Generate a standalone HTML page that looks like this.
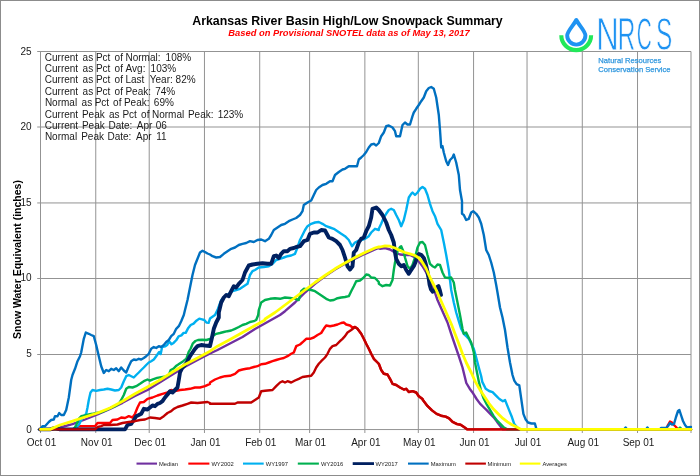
<!DOCTYPE html>
<html><head><meta charset="utf-8"><title>Arkansas River Basin High/Low Snowpack Summary</title>
<style>
html,body{margin:0;padding:0;background:#fff;}
body{width:700px;height:476px;overflow:hidden;}
svg{display:block;font-family:"Liberation Sans",sans-serif;}
</style></head><body>
<svg width="700" height="476" viewBox="0 0 700 476">
<rect x="0" y="0" width="700" height="476" fill="#fff"/>
<rect x="0.5" y="0.5" width="699" height="475" fill="none" stroke="#8c8c8c" stroke-width="1"/>
<g stroke="#939393" stroke-width="1"><line x1="37.20" y1="429.55" x2="691.0" y2="429.55"/><line x1="37.20" y1="354.5" x2="691.0" y2="354.5"/><line x1="37.20" y1="278.5" x2="691.0" y2="278.5"/><line x1="37.20" y1="202.95" x2="691.0" y2="202.95"/><line x1="37.20" y1="127.0" x2="691.0" y2="127.0"/><line x1="37.20" y1="51.5" x2="691.0" y2="51.5"/><line x1="40.50" y1="51.5" x2="40.50" y2="433.0"/><line x1="95.75" y1="51.5" x2="95.75" y2="433.0"/><line x1="149.21" y1="51.5" x2="149.21" y2="433.0"/><line x1="204.46" y1="51.5" x2="204.46" y2="433.0"/><line x1="259.71" y1="51.5" x2="259.71" y2="433.0"/><line x1="309.61" y1="51.5" x2="309.61" y2="433.0"/><line x1="364.86" y1="51.5" x2="364.86" y2="433.0"/><line x1="418.32" y1="51.5" x2="418.32" y2="433.0"/><line x1="473.57" y1="51.5" x2="473.57" y2="433.0"/><line x1="527.04" y1="51.5" x2="527.04" y2="433.0"/><line x1="582.29" y1="51.5" x2="582.29" y2="433.0"/><line x1="637.53" y1="51.5" x2="637.53" y2="433.0"/><line x1="691.0" y1="51.5" x2="691.0" y2="433.0"/></g>
<g font-size="10px" fill="#1a1a1a"><text y="60.70" id="st0" xml:space="preserve"><tspan x="44.80">Current </tspan><tspan x="82.60">as </tspan><tspan x="95.90">Pct </tspan><tspan x="114.60">of </tspan><tspan x="125.45">Normal: </tspan><tspan x="165.60">108%</tspan></text><text y="72.05" id="st1" xml:space="preserve"><tspan x="44.80">Current </tspan><tspan x="82.60">as </tspan><tspan x="95.90">Pct </tspan><tspan x="114.60">of </tspan><tspan x="125.60">Avg: </tspan><tspan x="150.60">103%</tspan></text><text y="83.30" id="st2" xml:space="preserve"><tspan x="44.80">Current </tspan><tspan x="82.60">as </tspan><tspan x="95.90">Pct </tspan><tspan x="114.60">of </tspan><tspan x="125.45">Last </tspan><tspan x="149.75">Year: </tspan><tspan x="175.60">82%</tspan></text><text y="94.60" id="st3" xml:space="preserve"><tspan x="44.80">Current </tspan><tspan x="82.60">as </tspan><tspan x="95.90">Pct </tspan><tspan x="114.60">of </tspan><tspan x="125.45">Peak: </tspan><tspan x="155.25">74%</tspan></text><text y="106.20" id="st4" xml:space="preserve"><tspan x="44.90">Normal </tspan><tspan x="81.60">as </tspan><tspan x="94.70">Pct </tspan><tspan x="113.10">of </tspan><tspan x="123.95">Peak: </tspan><tspan x="153.85">69%</tspan></text><text y="117.50" id="st5" xml:space="preserve"><tspan x="44.80">Current </tspan><tspan x="81.95">Peak </tspan><tspan x="108.90">as </tspan><tspan x="122.45">Pct </tspan><tspan x="141.10">of </tspan><tspan x="151.95">Normal </tspan><tspan x="187.95">Peak: </tspan><tspan x="217.65">123%</tspan></text><text y="128.80" id="st6" xml:space="preserve"><tspan x="44.80">Current </tspan><tspan x="81.95">Peak </tspan><tspan x="108.50">Date: </tspan><tspan x="136.75">Apr </tspan><tspan x="155.80">06</tspan></text><text y="140.10" id="st7" xml:space="preserve"><tspan x="44.90">Normal </tspan><tspan x="81.20">Peak </tspan><tspan x="107.45">Date: </tspan><tspan x="136.00">Apr </tspan><tspan x="156.15">11</tspan></text></g>
<g fill="none" stroke-linejoin="round" stroke-linecap="round"><polyline stroke="#7030A0" stroke-width="2.4" points="40.0,429.4 50.0,429.4 60.0,427.5 72.5,424.2 85.0,419.5 97.5,414.5 110.0,409.0 122.5,402.8 135.0,396.0 147.5,390.0 160.0,382.2 172.5,374.5 185.0,366.8 197.5,360.0 210.0,353.5 217.5,350.0 230.0,343.5 242.5,337.0 255.0,329.0 267.5,322.0 280.0,315.0 285.0,311.2 295.0,302.5 305.0,292.5 315.0,283.8 325.0,276.2 335.0,269.5 345.0,263.8 355.0,258.8 365.0,253.8 375.0,249.5 378.8,248.0 380.0,248.8 385.0,248.0 390.0,249.5 395.0,252.5 400.0,254.5 405.0,255.0 410.0,255.0 415.0,257.5 418.8,261.2 422.5,266.2 426.2,272.5 430.0,281.2 433.8,289.0 437.5,300.0 442.5,311.2 447.5,322.5 451.2,333.8 455.0,345.0 458.8,356.2 462.5,367.5 466.3,383.0 469.7,388.7 473.1,393.3 476.6,399.0 480.0,403.6 483.4,407.0 486.9,410.4 490.3,413.9 493.7,417.3 497.1,421.9 500.6,426.4 502.9,429.4 691.0,429.4"/><polyline stroke="#FF0000" stroke-width="2.4" points="40.0,429.4 72.5,429.4 76.2,427.5 78.8,426.2 95.0,426.2 97.5,423.0 110.0,423.0 112.5,420.0 117.5,419.5 121.2,417.5 125.0,418.0 128.8,416.2 132.5,417.5 135.0,413.8 137.5,407.5 140.0,402.5 143.8,402.0 147.5,398.8 152.5,397.5 157.5,395.5 162.5,393.8 167.5,392.5 171.2,390.0 175.0,391.2 180.0,390.0 185.0,389.5 190.0,388.8 195.0,387.5 200.0,387.5 205.0,386.2 210.0,383.8 210.0,382.5 215.0,379.5 220.0,377.5 225.0,376.2 230.0,375.8 235.0,373.8 238.8,370.5 242.5,369.5 246.2,368.8 250.0,368.2 253.8,367.0 257.5,366.2 261.2,364.2 265.0,363.8 268.8,362.5 272.5,361.2 276.2,360.0 280.0,358.8 283.8,358.0 287.5,356.2 291.2,353.8 293.8,352.5 296.2,346.2 300.0,344.5 303.8,341.2 306.2,338.8 310.0,338.8 313.8,337.5 317.5,335.0 321.2,333.0 323.8,328.8 326.2,325.5 330.0,326.2 333.8,325.5 337.5,324.5 341.2,323.0 343.8,322.5 346.2,324.5 350.0,325.5 352.5,327.5 355.0,327.0 357.5,328.8 361.2,333.8 363.8,338.8 366.2,343.8 368.8,348.8 371.2,353.8 373.8,358.8 377.5,362.5 378.8,363.8 381.2,370.0 383.8,373.8 387.5,374.5 390.0,378.8 392.5,383.8 396.2,385.0 400.0,387.5 403.8,389.5 406.2,388.8 408.8,392.0 412.5,391.2 416.2,392.5 418.8,396.2 422.5,399.0 422.9,400.1 427.4,405.9 432.0,410.4 436.6,413.9 441.1,415.7 445.7,416.6 449.1,418.4 452.6,421.9 457.1,424.1 460.6,424.8 464.0,427.1 467.4,429.4 666.0,429.4 668.0,425.0 670.0,421.6 672.0,422.6 674.0,425.0 676.0,427.0 678.0,429.4 691.0,429.4"/><polyline stroke="#00B0F0" stroke-width="2.4" points="40.0,429.4 72.5,429.4 76.2,427.5 78.8,425.0 81.2,420.0 83.8,416.2 86.2,413.8 87.5,407.5 88.8,400.0 90.5,392.5 92.5,390.0 96.2,390.8 100.0,390.0 103.8,389.5 107.5,388.8 111.2,389.5 115.0,390.5 118.8,390.0 121.2,387.5 123.8,381.2 126.2,376.2 128.8,375.0 131.2,376.2 133.8,377.5 136.2,375.0 138.8,372.5 141.2,370.0 143.8,367.5 146.2,365.0 148.8,362.5 151.2,361.2 153.8,359.5 156.2,356.2 158.8,352.5 159.2,352.0 160.7,354.0 162.1,347.1 165.0,346.4 167.1,345.0 169.3,341.4 171.4,344.3 173.6,342.9 176.4,340.0 178.6,336.4 181.4,335.4 183.6,332.9 185.7,332.9 187.9,328.6 190.7,325.0 193.6,323.6 196.4,320.7 199.3,318.6 202.1,319.3 204.3,320.0 206.4,322.6 208.6,322.9 210.0,318.6 212.1,317.1 215.0,315.0 217.9,309.0 221.2,300.0 225.0,296.2 228.8,293.8 232.5,291.2 236.2,290.0 240.0,288.8 243.8,286.2 247.5,283.8 250.0,275.0 252.5,271.2 255.0,270.0 258.8,267.5 263.8,267.0 268.8,266.2 272.5,263.8 276.2,260.0 280.0,258.8 283.8,257.5 287.5,256.2 291.2,255.5 295.0,253.8 297.5,247.5 300.0,240.0 302.5,235.0 305.0,230.0 307.5,226.2 311.2,223.8 315.0,222.5 318.8,222.0 322.5,223.8 326.2,226.2 330.0,227.5 333.8,228.8 337.5,231.2 341.2,233.8 345.0,236.2 348.8,240.0 352.0,246.2 355.0,242.5 357.5,241.2 361.2,240.0 365.0,238.8 368.8,236.2 371.2,232.5 375.0,228.8 378.8,230.0 378.8,228.8 381.2,223.8 383.8,217.5 386.2,213.8 388.8,210.0 391.2,208.8 393.8,210.0 396.2,215.0 398.8,220.0 401.2,226.2 403.8,220.0 406.2,210.0 408.8,197.5 411.2,193.8 412.5,192.5 415.0,195.0 417.5,192.5 420.0,188.8 422.5,187.0 425.0,188.8 427.5,195.0 430.0,203.8 432.5,211.2 435.0,216.2 437.5,223.8 441.2,230.0 443.8,242.5 446.2,255.0 448.8,270.0 450.0,280.0 451.2,290.0 453.8,302.5 456.2,312.5 458.8,321.2 461.2,328.8 463.8,333.8 466.2,336.2 468.8,338.8 471.2,343.8 473.8,348.8 476.2,357.5 478.8,367.5 481.2,376.2 482.3,381.9 485.7,388.7 489.1,391.0 492.6,392.1 496.0,395.6 499.4,399.0 502.9,401.3 505.1,400.1 507.4,405.9 509.7,411.6 512.0,417.3 514.3,424.1 517.7,428.0 520.0,429.4 691.0,429.4"/><polyline stroke="#00B050" stroke-width="2.4" points="40.0,429.4 73.8,429.4 76.2,425.0 78.8,418.8 81.2,416.2 85.0,415.5 88.8,414.5 92.5,413.8 96.2,413.0 100.0,412.5 103.8,411.2 107.5,409.5 111.2,407.5 115.0,406.2 118.8,403.8 121.2,400.0 123.8,395.0 126.2,388.8 128.8,387.0 132.5,387.5 136.2,386.2 140.0,383.8 143.8,381.2 147.5,379.5 147.5,379.5 150.0,380.7 152.9,379.3 157.1,377.9 161.4,377.1 165.7,376.4 168.6,375.7 170.7,370.0 173.6,368.6 176.4,365.7 178.6,364.3 182.9,361.4 186.4,358.6 188.6,352.1 190.7,348.5 192.9,343.3 195.4,341.0 198.0,340.0 202.1,339.8 206.4,340.0 210.0,339.0 212.5,336.2 216.2,333.8 220.0,333.0 223.8,332.0 227.5,331.2 231.2,330.5 235.0,328.8 238.8,327.0 242.5,325.0 246.2,323.8 250.0,322.0 253.8,321.2 256.2,320.0 258.2,315.0 258.8,310.0 261.2,302.5 265.0,300.0 270.0,298.8 275.0,298.2 280.0,298.8 285.0,297.5 290.0,298.0 295.0,298.8 298.8,300.0 301.2,291.2 303.8,288.8 307.5,289.5 311.2,290.0 315.0,291.2 318.8,293.8 322.5,296.2 326.2,298.8 330.0,300.5 333.8,300.0 337.5,298.2 341.2,297.5 345.0,297.0 348.8,296.2 351.2,291.2 353.8,286.2 356.2,281.2 360.0,280.5 363.8,277.5 366.2,274.5 368.8,275.0 371.2,277.5 375.0,278.0 378.8,282.0 378.8,283.8 382.5,286.2 386.2,285.0 390.0,285.5 392.5,280.0 393.8,270.0 395.0,262.5 397.5,251.2 400.0,247.0 401.2,246.2 403.8,252.5 405.0,257.5 407.5,266.2 410.0,268.8 412.5,265.0 415.0,257.5 417.5,247.5 420.0,242.5 422.5,242.0 425.0,245.0 427.5,255.0 430.0,263.8 432.5,266.2 435.0,267.5 437.5,264.5 440.0,265.0 442.5,272.5 445.0,277.5 448.8,278.0 451.2,277.5 453.8,282.5 455.0,290.0 457.5,302.5 460.0,315.0 462.5,328.8 463.8,333.8 466.2,332.5 468.0,336.2 471.2,342.5 473.8,352.5 475.0,362.5 477.5,375.0 478.9,381.9 481.1,391.0 483.4,397.9 486.9,404.7 490.3,410.4 493.7,416.1 497.1,420.7 500.6,424.1 504.0,427.6 507.4,429.4 678.0,429.4 680.0,427.6 682.0,429.4 691.0,429.4"/><polyline stroke="#002060" stroke-width="3.9" points="40.0,429.4 50.0,429.4 55.0,428.0 60.0,429.4 125.0,429.4 127.5,425.0 131.2,423.8 133.8,420.0 136.2,416.2 138.8,415.0 141.2,413.8 143.8,408.8 147.5,409.5 150.0,407.5 152.5,405.5 155.0,406.2 157.5,403.8 160.0,403.0 162.5,401.2 165.0,397.5 167.5,394.5 170.0,391.2 172.5,392.5 175.0,390.0 177.5,387.5 178.8,380.0 180.0,372.5 182.5,367.5 185.0,365.0 187.5,361.2 190.0,356.2 192.5,352.5 195.0,348.8 197.5,346.2 201.2,345.0 205.0,345.5 210.0,346.0 210.0,346.0 212.0,337.5 213.8,328.8 216.2,322.5 218.8,317.5 218.8,312.5 221.2,302.5 223.8,297.5 226.2,295.0 228.8,296.2 231.2,291.2 233.8,286.2 236.2,287.5 238.8,283.8 242.5,280.0 245.0,272.5 248.8,265.5 252.5,264.5 257.5,263.8 262.5,263.2 267.5,263.8 271.2,263.8 273.8,256.2 276.2,255.5 278.8,258.0 281.2,253.8 283.8,251.2 287.5,251.2 290.0,248.8 293.8,248.0 296.2,247.0 300.0,246.2 303.8,241.2 307.5,240.0 310.0,233.8 313.8,232.5 317.5,232.5 321.2,230.0 325.0,230.5 328.8,237.5 332.5,238.8 336.2,241.2 340.0,245.0 342.5,250.0 345.0,257.5 347.5,266.2 350.0,269.5 352.5,266.2 353.8,252.5 356.2,250.0 358.8,242.5 361.2,238.8 363.8,237.5 366.2,231.2 368.8,226.2 371.2,217.5 372.5,208.8 376.2,207.5 378.8,210.0 382.5,215.0 386.2,222.5 388.8,230.0 391.2,235.0 393.8,242.5 395.0,252.5 396.2,258.8 398.8,263.8 401.2,266.2 403.8,265.0 406.2,270.0 408.8,273.8 411.2,270.0 413.9,265.9 415.8,261.4 417.0,256.4 418.9,253.9 421.4,255.1 424.0,258.3 425.2,262.1 426.5,267.1 427.7,272.8 428.8,279.1 429.6,284.8 430.9,289.2 432.8,291.7 434.7,290.4 436.6,287.3 438.5,286.0 439.7,289.8 441.0,294.9"/><polyline stroke="#0070C0" stroke-width="2.4" points="40.5,429.4 42.5,426.2 45.0,426.2 48.8,422.0 51.2,420.0 53.8,419.5 55.0,416.2 57.5,416.2 59.2,413.0 61.2,415.0 63.8,415.0 66.2,410.0 68.8,397.5 71.2,380.0 72.5,375.0 75.0,368.8 77.5,361.2 80.0,356.2 81.2,352.5 83.8,338.8 85.8,332.5 88.8,333.8 91.2,335.0 93.8,336.2 96.2,345.0 98.8,356.2 101.2,366.2 103.8,373.0 106.2,370.0 108.8,371.2 111.2,368.8 113.8,370.0 116.2,368.2 118.8,371.2 121.2,367.5 123.8,370.5 126.2,372.5 128.8,366.2 131.2,361.2 133.8,359.5 136.2,360.0 138.8,358.8 141.2,359.5 143.8,358.0 146.2,356.2 148.8,353.8 151.2,348.8 153.8,347.0 156.2,348.0 158.8,346.2 161.2,347.0 163.8,345.0 166.2,342.0 168.8,340.0 171.2,336.2 173.8,333.8 176.2,328.8 178.8,326.2 181.2,321.2 183.8,315.0 185.0,310.0 187.5,300.0 190.0,287.5 192.5,275.0 195.0,265.0 197.5,258.8 200.0,252.5 202.5,250.8 205.0,252.0 207.5,253.5 210.0,254.5 212.5,256.2 216.2,257.5 220.0,257.0 223.8,253.8 227.5,251.2 231.2,248.8 235.0,247.5 238.8,245.0 242.5,243.8 246.2,243.0 250.0,241.2 253.8,242.0 257.5,240.0 261.2,239.5 265.0,241.2 268.8,238.8 271.2,235.0 273.8,230.0 277.5,227.5 281.2,225.0 285.0,223.8 288.8,221.2 292.5,219.5 296.2,218.0 300.0,215.0 302.5,211.2 303.8,205.0 307.5,202.5 311.2,200.5 313.8,195.0 316.2,190.0 318.8,187.5 322.5,185.0 326.2,183.8 330.0,181.2 332.5,181.2 335.0,175.0 338.8,172.0 342.5,169.5 345.0,168.8 348.8,166.2 352.5,166.2 357.0,166.2 358.8,159.5 361.2,157.5 363.8,155.0 366.2,152.0 368.8,147.5 371.2,144.5 373.8,143.8 376.2,145.5 378.8,143.0 381.2,136.2 383.8,132.5 386.2,126.2 388.8,125.5 392.5,127.5 395.0,131.2 396.2,136.2 400.0,136.2 402.5,125.0 405.0,122.5 407.5,124.5 410.0,124.5 412.5,116.2 413.8,112.5 416.2,108.8 418.8,105.0 421.2,101.2 423.8,97.5 426.2,91.2 428.8,88.0 431.2,87.0 433.8,88.8 436.2,97.5 438.8,115.0 440.0,130.0 441.2,147.5 442.5,146.2 443.8,152.5 446.2,161.2 448.0,165.0 450.0,160.0 452.5,157.5 453.8,154.5 456.2,162.5 458.8,175.0 460.0,190.0 462.0,201.2 462.0,213.8 463.8,215.0 466.2,220.0 468.8,218.8 471.2,212.5 473.2,211.2 476.2,213.8 478.8,217.5 481.2,223.8 483.8,235.0 486.2,250.0 488.8,255.0 491.2,262.5 493.8,272.5 496.2,285.0 497.5,292.5 500.0,307.5 502.5,317.5 505.0,330.0 507.5,347.5 510.0,362.5 512.5,375.0 514.3,380.7 516.6,384.1 519.3,385.3 521.1,397.9 523.4,413.9 525.7,419.6 528.0,422.5 531.4,423.5 534.9,423.5 536.5,429.4 624.0,429.4 625.6,427.4 627.2,429.4 646.0,429.4 647.4,427.4 648.8,429.4 660.0,429.4 661.0,428.0 666.0,428.0 668.0,426.0 670.0,423.0 672.0,424.6 674.0,424.0 676.0,417.0 678.0,411.0 679.4,410.0 681.0,415.0 683.0,421.0 685.0,425.0 687.0,427.4 691.0,427.0"/><polyline stroke="#C00000" stroke-width="2.4" points="40.0,429.4 95.0,429.4 97.5,427.0 101.2,426.2 103.8,425.0 110.0,425.0 117.5,424.5 122.5,423.0 128.8,422.0 135.0,421.2 140.0,420.0 145.0,419.5 150.0,417.5 155.0,418.0 160.0,418.8 163.8,416.2 167.5,413.0 171.2,411.2 173.8,408.8 177.5,407.0 182.5,405.5 187.5,403.8 191.2,402.5 197.5,403.0 202.5,402.5 207.5,402.0 210.0,403.0 210.0,403.8 220.0,403.8 235.0,403.8 237.5,402.5 251.2,402.5 255.0,400.0 258.8,397.5 261.2,391.2 265.0,390.8 272.5,390.0 276.2,386.2 280.0,382.5 282.5,381.2 285.0,382.5 287.5,381.2 291.2,382.5 295.0,380.5 298.8,378.8 302.5,377.0 307.5,376.2 311.2,375.8 313.8,372.5 316.2,367.5 318.8,363.8 321.2,361.2 325.0,357.5 327.5,353.8 330.0,348.8 332.5,346.2 336.2,345.0 340.0,341.2 342.5,338.8 345.0,336.2 347.5,332.5 351.2,330.0 355.0,327.0 357.5,328.8 361.2,333.8 363.8,338.8 366.2,343.8 368.8,348.8 371.2,353.8 373.8,358.8 377.5,362.5 378.8,363.8 381.2,370.0 383.8,373.8 387.5,374.5 390.0,378.8 392.5,383.8 396.2,385.0 400.0,387.5 403.8,389.5 406.2,388.8 408.8,392.0 412.5,391.2 416.2,392.5 418.8,396.2 422.5,399.0 422.9,400.1 427.4,405.9 432.0,410.4 436.6,413.9 441.1,415.7 445.7,416.6 449.1,418.4 452.6,421.9 457.1,424.1 460.6,424.8 464.0,427.1 467.4,429.4 691.0,429.4"/><polyline stroke="#FFFF00" stroke-width="2.8" points="40.5,429.4 50.0,429.4 60.0,425.0 72.5,421.2 85.0,417.0 97.5,413.0 110.0,408.0 122.5,401.2 135.0,393.8 147.5,387.0 160.0,380.0 172.5,372.0 185.0,364.5 197.5,358.0 210.0,351.2 217.5,346.2 230.0,339.5 242.5,332.5 255.0,325.5 265.0,320.0 265.0,319.0 275.0,312.5 285.0,305.0 295.0,297.5 305.0,290.0 315.0,282.5 325.0,275.5 335.0,268.8 345.0,263.0 355.0,257.5 365.0,252.5 375.0,248.0 378.8,246.8 380.0,247.0 385.0,245.8 390.0,246.2 395.0,248.0 400.0,250.5 405.0,252.5 410.0,253.8 415.0,255.5 418.8,258.0 422.5,262.5 426.2,268.8 430.0,277.5 433.8,285.0 436.2,290.0 441.2,301.2 446.2,312.5 451.2,323.8 455.0,333.8 458.8,343.8 462.5,353.8 466.2,362.5 471.2,372.5 475.4,381.9 480.0,389.9 484.6,396.7 489.1,403.6 493.7,409.3 498.3,413.9 502.9,418.4 507.4,421.9 512.0,424.8 516.6,427.1 521.1,429.4 525.7,429.4 691.0,429.4"/></g>
<text id="title" x="347.5" y="24.5" text-anchor="middle" font-size="12.36px" font-weight="bold" fill="#000">Arkansas River Basin High/Low Snowpack Summary</text>
<text id="sub" x="349" y="36" text-anchor="middle" font-size="9.36px" font-weight="bold" font-style="italic" fill="#ff0000">Based on Provisional SNOTEL data as of May 13, 2017</text>
<text id="ylab" transform="translate(20.5,259.5) rotate(-90)" text-anchor="middle" font-size="10.5px" font-weight="bold" fill="#000">Snow Water Equivalent (inches)</text>
<g font-size="10px" fill="#1a1a1a"><text x="31.7" y="432.6" text-anchor="end">0</text><text x="31.7" y="357.0" text-anchor="end">5</text><text x="31.7" y="281.4" text-anchor="end">10</text><text x="31.7" y="205.8" text-anchor="end">15</text><text x="31.7" y="130.2" text-anchor="end">20</text><text x="31.7" y="54.6" text-anchor="end">25</text><text x="41.5" y="445.7" text-anchor="middle">Oct 01</text><text x="96.7" y="445.7" text-anchor="middle">Nov 01</text><text x="150.2" y="445.7" text-anchor="middle">Dec 01</text><text x="205.5" y="445.7" text-anchor="middle">Jan 01</text><text x="260.7" y="445.7" text-anchor="middle">Feb 01</text><text x="310.6" y="445.7" text-anchor="middle">Mar 01</text><text x="365.9" y="445.7" text-anchor="middle">Apr 01</text><text x="419.3" y="445.7" text-anchor="middle">May 01</text><text x="474.6" y="445.7" text-anchor="middle">Jun 01</text><text x="528.0" y="445.7" text-anchor="middle">Jul 01</text><text x="583.3" y="445.7" text-anchor="middle">Aug 01</text><text x="638.5" y="445.7" text-anchor="middle">Sep 01</text></g>
<g font-size="5.8px" fill="#1a1a1a"><line x1="136.5" y1="463.6" x2="157" y2="463.6" stroke="#7030A0" stroke-width="2.1"/><text x="159" y="465.8">Median</text><line x1="188.3" y1="463.6" x2="209.4" y2="463.6" stroke="#FF0000" stroke-width="2.1"/><text x="211.4" y="465.8">WY2002</text><line x1="243" y1="463.6" x2="263.7" y2="463.6" stroke="#00B0F0" stroke-width="2.1"/><text x="265.7" y="465.8">WY1997</text><line x1="297.8" y1="463.6" x2="318.9" y2="463.6" stroke="#00B050" stroke-width="2.1"/><text x="321" y="465.8">WY2016</text><line x1="352.7" y1="463.6" x2="374" y2="463.6" stroke="#002060" stroke-width="2.8"/><text x="375.5" y="465.8">WY2017</text><line x1="408" y1="463.6" x2="428.7" y2="463.6" stroke="#0070C0" stroke-width="2.1"/><text x="430.7" y="465.8">Maximum</text><line x1="465.3" y1="463.6" x2="485.9" y2="463.6" stroke="#C00000" stroke-width="2.1"/><text x="487.6" y="465.8">Minimum</text><line x1="519.8" y1="463.6" x2="540.4" y2="463.6" stroke="#FFFF00" stroke-width="2.1"/><text x="542.4" y="465.8">Averages</text></g>
<g id="logo"><path d="M576.3 20 C573.5 25.5 567.2 31 567.2 35.5 A9.1 9.1 0 0 0 585.4 35.5 C585.4 31 579.1 25.5 576.3 20 Z" fill="none" stroke="#1f93f2" stroke-width="3.9" stroke-linejoin="round"/><path d="M561.3 35.2 A14.9 14.9 0 0 0 591.1 35.2" fill="none" stroke="#22e85a" stroke-width="4.1"/><text transform="translate(596.36,50.0) scale(0.686,1)" font-size="45.4px" fill="#1f93f2" stroke="#fff" stroke-width="0.8">N</text><text transform="translate(617.84,50.0) scale(0.537,1)" font-size="45.4px" fill="#1f93f2" stroke="#fff" stroke-width="0.8">R</text><text transform="translate(636.63,50.0) scale(0.460,1)" font-size="45.4px" fill="#1f93f2" stroke="#fff" stroke-width="0.8">C</text><text transform="translate(656.11,50.0) scale(0.539,1)" font-size="45.4px" fill="#1f93f2" stroke="#fff" stroke-width="0.8">S</text><text id="nr" x="598.3" y="62.6" font-size="8px" fill="#2f97de" stroke="#2f97de" stroke-width="0.25" textLength="63" lengthAdjust="spacingAndGlyphs">Natural Resources</text><text id="cs" x="598.3" y="72" font-size="8px" fill="#2f97de" stroke="#2f97de" stroke-width="0.25" textLength="72.3" lengthAdjust="spacingAndGlyphs">Conservation Service</text></g>
</svg></body></html>
